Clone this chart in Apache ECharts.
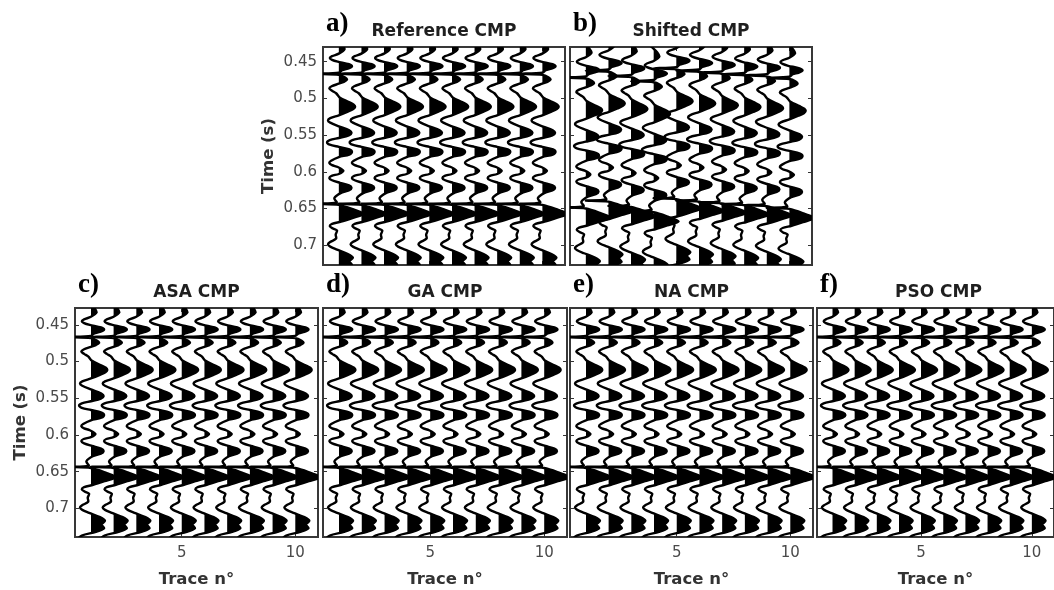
<!DOCTYPE html>
<html>
<head>
<meta charset="utf-8">
<script src="https://cdn.jsdelivr.net/npm/echarts@6/dist/echarts.min.js"></script>
<style>
  html, body { margin: 0; padding: 0; background: #fff; }
  #chart { width: 1054px; height: 590px; }
</style>
</head>
<body>
<div id="chart"></div>
<script>
// Recorded CMP wavelet: sample times (s) and amplitudes (in trace spacings)
const waveTime = [
  0.414, 0.421, 0.427, 0.433, 0.439, 0.4425, 0.445, 0.4475, 0.450, 0.4535,
  0.4565, 0.4595, 0.4615, 0.4650, 0.4665, 0.4680, 0.4715, 0.4745, 0.4775, 0.480,
  0.4835, 0.4865, 0.4895, 0.493, 0.499, 0.505, 0.5085, 0.5115, 0.5145, 0.518,
  0.523, 0.527, 0.530, 0.533, 0.538, 0.5435, 0.547, 0.5505, 0.554, 0.557,
  0.560, 0.563, 0.566, 0.5695, 0.573, 0.5765, 0.580, 0.585, 0.588, 0.591,
  0.5935, 0.5985, 0.603, 0.6055, 0.6085, 0.6115, 0.615, 0.6185, 0.622, 0.6255,
  0.629, 0.636, 0.6420, 0.6435, 0.6450, 0.652, 0.6575, 0.663, 0.668, 0.671,
  0.674, 0.677, 0.680, 0.6855, 0.691, 0.696, 0.699, 0.702, 0.706, 0.712,
  0.717, 0.722, 0.727, 0.732, 0.737, 0.742, 0.748
];
const waveAmp = [
  -0.30, -0.05, 0.15, 0.25, 0.00, -0.30, -0.40, -0.30, -0.05, 0.45,
  0.58, 0.40, 0.15, 0.00, -1.00, 0.00, 0.28, 0.36, 0.22, 0.00,
  -0.32, -0.42, -0.30, -0.12, 0.05, 0.45, 0.66, 0.72, 0.64, 0.40,
  0.00, -0.38, -0.48, -0.38, 0.00, 0.46, 0.56, 0.44, 0.00, -0.40,
  -0.52, -0.40, 0.00, 0.47, 0.58, 0.46, 0.00, -0.34, -0.42, -0.30,
  -0.05, 0.20, 0.00, -0.32, -0.42, -0.30, 0.05, 0.45, 0.56, 0.44,
  0.08, -0.20, -0.10, -1.00, 0.00, 0.70, 1.10, 0.60, 0.10, -0.30,
  -0.40, -0.28, -0.08, -0.14, -0.12, -0.40, -0.48, -0.38, -0.08, 0.40,
  0.62, 0.46, 0.58, 0.22, -0.40, -0.55, -0.30
];

// Trace numbers of the gather
const traceNo = [1, 2, 3, 4, 5, 6, 7, 8, 9, 10];

// Static time shift of every trace (s), one list per gather
const shiftReference = [0, 0, 0, 0, 0, 0, 0, 0, 0, 0];
const shiftShifted   = [0.005, -0.0043, 0.003, 0.010, -0.0075, -0.0043, -0.0018, 0.0005, 0.002, 0.0056];
const shiftASA       = [0, 0, 0, 0, 0, 0, 0, 0, 0, 0];
const shiftGA        = [0, 0, 0, 0, 0, 0, 0, 0, 0, 0];
const shiftNA        = [0, 0, 0, 0, 0, 0, 0, 0, 0, 0];
const shiftPSO       = [0, 0, 0, 0, 0, 0, 0, 0, 0, 0];

const panelTitles  = ['Reference CMP', 'Shifted CMP', 'ASA CMP', 'GA CMP', 'NA CMP', 'PSO CMP'];
const panelLetters = ['a)', 'b)', 'c)', 'd)', 'e)', 'f)'];
const panelShifts  = [shiftReference, shiftShifted, shiftASA, shiftGA, shiftNA, shiftPSO];

// Axis ticks
const timeTicks  = [0.45, 0.5, 0.55, 0.6, 0.65, 0.7];
const traceTicks = [5, 10];

// Panel boxes (px) and visible time window
const panels = [
  { left: 323, top: 47,  width: 242, height: 218, tMin: 0.430, tMax: 0.727, yLab: true,  xLab: false },
  { left: 570, top: 47,  width: 242, height: 218, tMin: 0.430, tMax: 0.727, yLab: false, xLab: false },
  { left: 75,  top: 308, width: 243, height: 229, tMin: 0.427, tMax: 0.739, yLab: true,  xLab: true },
  { left: 323, top: 308, width: 244, height: 229, tMin: 0.427, tMax: 0.739, yLab: false, xLab: true },
  { left: 570, top: 308, width: 243, height: 229, tMin: 0.427, tMax: 0.739, yLab: false, xLab: true },
  { left: 817, top: 308, width: 243, height: 229, tMin: 0.427, tMax: 0.739, yLab: false, xLab: true }
];
const traceMin = 0.3, traceMax = 11.0;

const FONT = '"DejaVu Sans", "Liberation Sans", sans-serif';
const TICK_COLOR = '#333';
const LABEL_COLOR = '#4a4a4a';

// Wiggle trace with the positive half filled in black
function renderTrace(params, api) {
  const trace = api.value(0);
  const shift = api.value(1);
  const cs = params.coordSys;
  const pts = waveTime.map((t, k) => api.coord([trace + waveAmp[k], t + shift]));
  // close the fill far to the left of the trace, then keep only the part right of the baseline
  const tEnd = waveTime[waveTime.length - 1] + shift;
  const tStart = waveTime[0] + shift;
  const farBottom = api.coord([trace - 3, tEnd]);
  const farTop = api.coord([trace - 3, tStart]);
  const bx = api.coord([trace, tStart])[0];
  return {
    type: 'group',
    children: [
      {
        type: 'polygon',
        shape: { points: pts.concat([farBottom, farTop]), smooth: 0.3 },
        style: { fill: '#000', stroke: null },
        clipPath: { type: 'rect', shape: { x: bx, y: cs.y, width: Math.max(0, cs.x + cs.width - bx), height: cs.height } }
      },
      {
        type: 'polyline',
        shape: { points: pts, smooth: 0.3 },
        style: { fill: null, stroke: '#000', lineWidth: 2.4, lineJoin: 'round' },
        clipPath: { type: 'rect', shape: { x: cs.x, y: cs.y, width: cs.width, height: cs.height } }
      }
    ]
  };
}

const grid = [], xAxis = [], yAxis = [], series = [], graphic = [];

panels.forEach((p, i) => {
  grid.push({
    left: p.left, top: p.top, width: p.width, height: p.height,
    show: true, backgroundColor: '#fff', borderColor: '#383838', borderWidth: 2
  });

  const tickStyle = { inside: true, length: 4, lineStyle: { color: TICK_COLOR, width: 1 } };

  // bottom and top trace axes
  xAxis.push({
    gridIndex: i, type: 'value', position: 'bottom', min: traceMin, max: traceMax,
    axisLine: { show: false }, splitLine: { show: false },
    axisTick: Object.assign({ customValues: traceTicks }, tickStyle),
    axisLabel: { show: p.xLab, customValues: traceTicks, margin: 9, color: LABEL_COLOR, fontSize: 15, fontFamily: FONT },
    name: p.xLab ? 'Trace n°' : '', nameLocation: 'middle', nameGap: 34,
    nameTextStyle: { fontSize: 16.5, fontWeight: 'bold', color: '#333', fontFamily: FONT }
  });
  xAxis.push({
    gridIndex: i, type: 'value', position: 'top', min: traceMin, max: traceMax,
    axisLine: { show: false }, splitLine: { show: false },
    axisTick: Object.assign({ customValues: traceTicks }, tickStyle),
    axisLabel: { show: false }
  });

  // left and right time axes
  yAxis.push({
    gridIndex: i, type: 'value', position: 'left', inverse: true, min: p.tMin, max: p.tMax,
    axisLine: { show: false }, splitLine: { show: false },
    axisTick: Object.assign({ customValues: timeTicks }, tickStyle),
    axisLabel: { show: p.yLab, customValues: timeTicks, margin: 6, color: LABEL_COLOR, fontSize: 15, fontFamily: FONT },
    name: p.yLab ? 'Time (s)' : '', nameLocation: 'middle', nameGap: 46,
    nameTextStyle: { fontSize: 16.5, fontWeight: 'bold', color: '#333', fontFamily: FONT }
  });
  yAxis.push({
    gridIndex: i, type: 'value', position: 'right', inverse: true, min: p.tMin, max: p.tMax,
    axisLine: { show: false }, splitLine: { show: false },
    axisTick: Object.assign({ customValues: timeTicks }, tickStyle),
    axisLabel: { show: false }
  });

  series.push({
    type: 'custom',
    name: panelTitles[i],
    xAxisIndex: 2 * i, yAxisIndex: 2 * i,
    clip: true,
    silent: true,
    renderItem: renderTrace,
    encode: { x: 0, y: 1 },
    data: traceNo.map((n, k) => [n, panelShifts[i][k]])
  });

  // panel title and letter
  graphic.push({
    type: 'text', x: p.left + p.width / 2, y: p.top - 15,
    style: { text: panelTitles[i], textAlign: 'center', textVerticalAlign: 'middle', verticalAlign: 'middle',
             font: 'bold 17px ' + FONT, fill: '#1f1f1f' }
  });
  graphic.push({
    type: 'text', x: p.left + 3, y: p.top - 23,
    style: { text: panelLetters[i], textAlign: 'left', textVerticalAlign: 'middle', verticalAlign: 'middle',
             font: 'bold 27px "Liberation Serif", "DejaVu Serif", serif', fill: '#000' }
  });
});

const chart = echarts.init(document.getElementById('chart'), null, { renderer: 'canvas' });
chart.setOption({
  animation: false,
  backgroundColor: '#fff',
  grid, xAxis, yAxis, series, graphic
});
</script>
</body>
</html>
